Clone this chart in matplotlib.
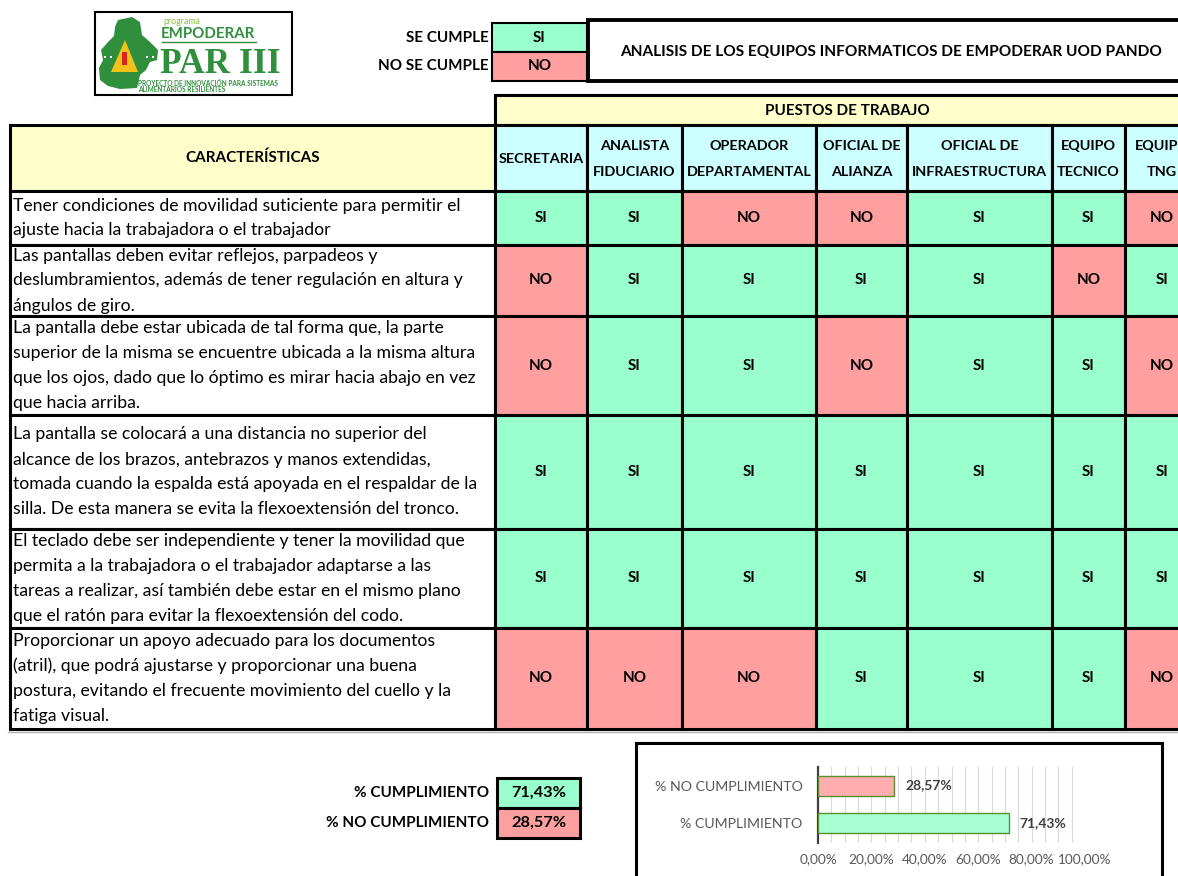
import matplotlib
matplotlib.use('Agg')
import matplotlib.pyplot as plt
from matplotlib.patches import Rectangle, Polygon
from matplotlib.ticker import MultipleLocator, FixedLocator, FuncFormatter

plt.rcParams['font.family'] = ['Lato', 'DejaVu Sans']

# ---------------- data ----------------
title = 'ANALISIS DE LOS EQUIPOS INFORMATICOS DE EMPODERAR UOD PANDO'
group_header = 'PUESTOS DE TRABAJO'
first_header = 'CARACTERÍSTICAS'
legend_labels = ['SE CUMPLE', 'NO SE CUMPLE']
legend_codes = ['SI', 'NO']
positions = ['SECRETARIA', 'ANALISTA\nFIDUCIARIO', 'OPERADOR\nDEPARTAMENTAL',
             'OFICIAL DE\nALIANZA', 'OFICIAL DE\nINFRAESTRUCTURA',
             'EQUIPO\nTECNICO', 'EQUIPO\nTNG']
characteristics = [
    'Tener condiciones de movilidad suticiente para permitir el\n'
    'ajuste hacia la trabajadora o el trabajador',
    'Las pantallas deben evitar reflejos, parpadeos y\n'
    'deslumbramientos, además de tener regulación en altura y\n'
    'ángulos de giro.',
    'La pantalla debe estar ubicada de tal forma que, la parte\n'
    'superior de la misma se encuentre ubicada a la misma altura\n'
    'que los ojos, dado que lo óptimo es mirar hacia abajo en vez\n'
    'que hacia arriba.',
    'La pantalla se colocará a una distancia no superior del\n'
    'alcance de los brazos, antebrazos y manos extendidas,\n'
    'tomada cuando la espalda está apoyada en el respaldar de la\n'
    'silla. De esta manera se evita la flexoextensión del tronco.',
    'El teclado debe ser independiente y tener la movilidad que\n'
    'permita a la trabajadora o el trabajador adaptarse a las\n'
    'tareas a realizar, así también debe estar en el mismo plano\n'
    'que el ratón para evitar la flexoextensión del codo.',
    'Proporcionar un apoyo adecuado para los documentos\n'
    '(atril), que podrá ajustarse y proporcionar una buena\n'
    'postura, evitando el frecuente movimiento del cuello y la\n'
    'fatiga visual.',
]
results = [
    ['SI', 'SI', 'NO', 'NO', 'SI', 'SI', 'NO'],
    ['NO', 'SI', 'SI', 'SI', 'SI', 'NO', 'SI'],
    ['NO', 'SI', 'SI', 'NO', 'SI', 'SI', 'NO'],
    ['SI', 'SI', 'SI', 'SI', 'SI', 'SI', 'SI'],
    ['SI', 'SI', 'SI', 'SI', 'SI', 'SI', 'SI'],
    ['NO', 'NO', 'NO', 'SI', 'SI', 'SI', 'NO'],
]
summary_labels = ['% CUMPLIMIENTO', '% NO CUMPLIMIENTO']
summary_values = [71.43, 28.57]
chart_categories = ['% CUMPLIMIENTO', '% NO CUMPLIMIENTO']
chart_values = [71.43, 28.57]
chart_ticks = [0, 20, 40, 60, 80, 100]

# ---------------- style / layout ----------------
W, H = 1178, 876
GREEN = '#99FFCC'
RED = '#FF9F9F'
CYAN = '#CCFFFF'
YELLOW = '#FFFFCC'
LOGO_GREEN = '#2f8f3c'
col_edges = [10, 495, 587, 682, 816, 907, 1052, 1125, 1199]
row_edges = [125, 191, 245, 316, 415, 529, 628, 729]
LW = 2.2
body_fs = 12.7
bold_fs = 11.0
head_fs = 10.4


def fmt_pct(v):
    return ('%.2f%%' % v).replace('.', ',')


fig = plt.figure(figsize=(W / 100, H / 100), dpi=100)
ax = fig.add_axes([0, 0, 1, 1])
ax.set_xlim(0, W)
ax.set_ylim(H, 0)
ax.axis('off')


def cell(x0, y0, x1, y1, fc='white', lw=LW, ec='black', z=1):
    ax.add_patch(Rectangle((x0, y0), x1 - x0, y1 - y0, facecolor=fc,
                           edgecolor=ec, linewidth=lw, zorder=z))


def multiline(x, yc, text, ha='center', fs=body_fs, weight='normal', step=25, color='black'):
    lines = text.split('\n')
    n = len(lines)
    for i, ln in enumerate(lines):
        ax.text(x, yc + (i - (n - 1) / 2) * step, ln, ha=ha, va='center',
                fontsize=fs, fontweight=weight, color=color, zorder=5)


# ---------------- logo ----------------
cell(95, 12, 292, 95, lw=1.5)
map_pts = [(118, 20), (132, 17), (140, 22), (142, 35), (150, 42), (158, 50),
           (157, 60), (150, 62), (146, 70), (140, 75), (137, 88), (120, 89),
           (108, 86), (100, 80), (99, 68), (103, 60), (101, 50), (108, 42),
           (114, 36), (115, 27)]
ax.add_patch(Polygon(map_pts, closed=True, facecolor=LOGO_GREEN, edgecolor='none', zorder=3))
ax.add_patch(Polygon([(125, 40), (138, 72), (111, 72)], closed=True,
                     facecolor='#f2c21b', edgecolor='none', zorder=4))
ax.add_patch(Rectangle((122, 52), 5, 13, facecolor='#d7261e', edgecolor='none', zorder=4))
for dx in (104, 110, 146, 152):
    ax.add_patch(Rectangle((dx, 56), 2, 2, facecolor='white', edgecolor='none', zorder=4))
ax.text(163, 22, 'programa', fontsize=6.3, color='#8bbf3f', va='center', zorder=5)
ax.text(161, 34, 'EMPODERAR', fontsize=10.8, fontweight='bold', color=LOGO_GREEN,
        va='center', zorder=5)
ax.plot([162, 256], [42, 42], color=LOGO_GREEN, lw=1, zorder=5)
ax.text(160, 73, 'PAR III', fontsize=25.5, fontweight='bold', color=LOGO_GREEN,
        family='Liberation Serif', va='baseline', zorder=5)
ax.text(138, 83.5, 'PROYECTO DE INNOVACIÓN PARA SISTEMAS', fontsize=4.7, fontweight='bold',
        color=LOGO_GREEN, va='center', zorder=5)
ax.text(138, 90, 'ALIMENTARIOS RESILIENTES', fontsize=4.7, fontweight='bold',
        color=LOGO_GREEN, va='center', zorder=5)

# ---------------- legend + title ----------------
leg_y = [23, 52, 81]
for i, (lab, code) in enumerate(zip(legend_labels, legend_codes)):
    fc = GREEN if code == 'SI' else RED
    cell(492, leg_y[i], 587, leg_y[i + 1], fc=fc, lw=1.5)
    ax.text(539.5, (leg_y[i] + leg_y[i + 1]) / 2, code, ha='center', va='center',
            fontsize=bold_fs, fontweight='bold', zorder=5)
    ax.text(489, (leg_y[i] + leg_y[i + 1]) / 2, lab, ha='right', va='center',
            fontsize=bold_fs, fontweight='bold', zorder=5)
cell(588, 20, 1199, 81, lw=2.8)
ax.text((588 + 1199) / 2 - 2, 52, title, ha='center', va='center', fontsize=11.1,
        fontweight='bold', zorder=5)

# ---------------- table ----------------
cell(col_edges[1], 95, col_edges[-1], row_edges[0], fc=YELLOW, lw=LW)
ax.text((col_edges[1] + col_edges[-1]) / 2, 111, group_header, ha='center', va='center',
        fontsize=bold_fs, fontweight='bold', zorder=5)
cell(col_edges[0], row_edges[0], col_edges[1], row_edges[1], fc=YELLOW, lw=LW)
ax.text((col_edges[0] + col_edges[1]) / 2, (row_edges[0] + row_edges[1]) / 2, first_header,
        ha='center', va='center', fontsize=bold_fs, fontweight='bold', zorder=5)
for j, pos in enumerate(positions):
    x0, x1 = col_edges[j + 1], col_edges[j + 2]
    cell(x0, row_edges[0], x1, row_edges[1], fc=CYAN, lw=LW)
    multiline((x0 + x1) / 2, (row_edges[0] + row_edges[1]) / 2 + 1, pos,
              fs=head_fs, weight='bold', step=25)

for i, (txt, row) in enumerate(zip(characteristics, results)):
    y0, y1 = row_edges[i + 1], row_edges[i + 2]
    cell(col_edges[0], y0, col_edges[1], y1, fc='white', lw=LW)
    multiline(13, (y0 + y1) / 2, txt, ha='left', fs=body_fs, step=25)
    for j, val in enumerate(row):
        x0, x1 = col_edges[j + 1], col_edges[j + 2]
        cell(x0, y0, x1, y1, fc=GREEN if val == 'SI' else RED, lw=LW)
        ax.text((x0 + x1) / 2, (y0 + y1) / 2, val, ha='center', va='center',
                fontsize=bold_fs, fontweight='bold', zorder=5)
ax.plot([8, W], [row_edges[-1] + 2.5, row_edges[-1] + 2.5], color='#b0b0b0', lw=1, zorder=0)

# ---------------- summary ----------------
sum_y = [778, 808, 838]
for i, (lab, v) in enumerate(zip(summary_labels, summary_values)):
    fc = GREEN if i == 0 else RED
    cell(497, sum_y[i], 580, sum_y[i + 1], fc=fc, lw=LW)
    ax.text(538.5, (sum_y[i] + sum_y[i + 1]) / 2, fmt_pct(v), ha='center', va='center',
            fontsize=11.8, fontweight='bold', zorder=5)
    ax.text(489, (sum_y[i] + sum_y[i + 1]) / 2, lab, ha='right', va='center',
            fontsize=bold_fs, fontweight='bold', zorder=5)

# ---------------- chart ----------------
cell(636, 743, 1162, 890, fc='white', lw=LW)
ax2 = fig.add_axes([818 / W, 1 - 843 / H, (1085 - 818) / W, (843 - 767) / H])
ax2.set_facecolor('none')
bar_colors = ['#A8FFD2', '#FFADAD']
ypos = list(range(len(chart_categories)))
bars = ax2.barh(ypos, chart_values, height=0.54, color=bar_colors,
                edgecolor='#5b8f2e', linewidth=1.0, zorder=3)
for b, v in zip(bars, chart_values):
    ax2.annotate(fmt_pct(v), (b.get_width(), b.get_y() + b.get_height() / 2),
                 xytext=(8, 0), textcoords='offset points', ha='left', va='center',
                 fontsize=10, fontweight='bold', color='#404040')
ax2.set_xlim(0, 100)
ax2.set_ylim(-0.55, 1.5)
ax2.xaxis.set_major_locator(FixedLocator(chart_ticks))
ax2.xaxis.set_minor_locator(MultipleLocator(5))
ax2.xaxis.set_major_formatter(FuncFormatter(lambda v, p: fmt_pct(v)))
ax2.grid(axis='x', which='both', color='#D9D9D9', lw=0.8, zorder=0)
ax2.set_yticks(ypos)
ax2.set_yticklabels(chart_categories)
ax2.tick_params(axis='both', which='both', length=0, colors='#595959', labelsize=10.2)
ax2.tick_params(axis='x', labelsize=9.8, pad=7)
ax2.tick_params(axis='y', pad=11)
for s in ['top', 'right', 'bottom']:
    ax2.spines[s].set_visible(False)
ax2.spines['left'].set_color('#404040')
ax2.spines['left'].set_linewidth(1.6)
ax2.set_axisbelow(True)

fig.savefig('out.png', dpi=100)
